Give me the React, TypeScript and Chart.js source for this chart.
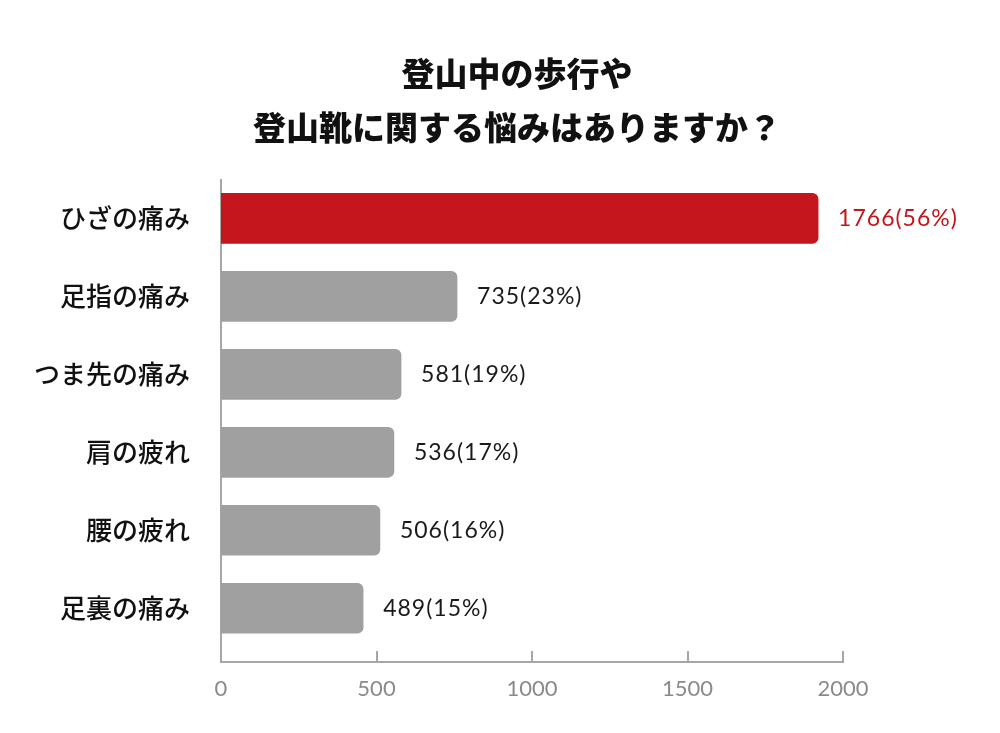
import React, { useEffect, useRef } from "react";
import { Chart, registerables } from "chart.js";

Chart.register(...registerables);

const titleLines = ["登山中の歩行や", "登山靴に関する悩みはありますか？"];
const categories = ["ひざの痛み", "足指の痛み", "つま先の痛み", "肩の疲れ", "腰の疲れ", "足裏の痛み"];
const barLengths = [1920, 759, 579, 556, 511, 457];
const counts = [1766, 735, 581, 536, 506, 489];
const shares = [56, 23, 19, 17, 16, 15];
const xTicks = [0, 500, 1000, 1500, 2000];

const RED = "#C4161C";
const GRAY = "#A0A0A0";
const AXIS = "#A6A6A6";

const barLabelPlugin = {
  id: "barLabels",
  afterDatasetsDraw(chart: any) {
    const { ctx } = chart;
    const meta = chart.getDatasetMeta(0);
    ctx.save();
    ctx.font = "400 23px Lato, 'Noto Sans', sans-serif";
    (ctx as any).letterSpacing = "1px";
    ctx.textBaseline = "middle";
    ctx.textAlign = "left";
    meta.data.forEach((el: any, i: number) => {
      ctx.fillStyle = i === 0 ? RED : "#1a1a1a";
      ctx.fillText(`${counts[i]}(${shares[i]}%)`, el.x + 20, el.y);
    });
    ctx.restore();
  },
};

const tickMarkPlugin = {
  id: "tickMarks",
  afterDraw(chart: any) {
    const { ctx, chartArea } = chart;
    const xs = chart.scales.x;
    ctx.save();
    ctx.strokeStyle = AXIS;
    ctx.lineWidth = 2;
    xTicks.forEach((v) => {
      const px = Math.round(xs.getPixelForValue(v));
      ctx.beginPath();
      ctx.moveTo(px, chartArea.bottom - 11);
      ctx.lineTo(px, chartArea.bottom);
      ctx.stroke();
    });
    ctx.restore();
  },
};

export default function App() {
  const ref = useRef<HTMLCanvasElement>(null);
  useEffect(() => {
    if (!ref.current) return;
    const chart = new Chart(ref.current, {
      type: "bar",
      data: {
        datasets: [
          {
            data: categories.map((_, i) => ({ x: barLengths[i], y: i })) as any,
            backgroundColor: categories.map((_, i) => (i === 0 ? RED : GRAY)),
            borderRadius: 6,
            borderSkipped: "start",
            barThickness: 50,
          },
        ],
      },
      options: {
        indexAxis: "y",
        animation: false,
        responsive: false,
        maintainAspectRatio: false,
        layout: { padding: { left: 34, right: 0, top: 0, bottom: 0 } },
        plugins: {
          legend: { display: false },
          tooltip: { enabled: false },
          title: {
            display: true,
            text: titleLines,
            color: "#111",
            font: { family: "'Noto Sans CJK JP', sans-serif", size: 33, weight: 900, lineHeight: 1.64 },
            padding: { top: 46, bottom: 26 },
          },
        },
        scales: {
          x: {
            type: "linear",
            min: 0,
            max: 2000,
            afterBuildTicks: (scale: any) => {
              scale.ticks = xTicks.map((v) => ({ value: v }));
            },
            afterFit: (scale: any) => {
              scale.height = 71;
            },
            grid: { display: false, drawTicks: false },
            border: { display: true, color: AXIS, width: 2 },
            ticks: {
              color: "#8a8a8a",
              padding: 14,
              font: { family: "Lato, 'Noto Sans', sans-serif", size: 22 },
              maxRotation: 0,
              callback: (v: any) => String(v),
            },
          },
          y: {
            type: "linear",
            reverse: true,
            offset: false,
            min: -0.49,
            max: 5.69,
            afterBuildTicks: (scale: any) => {
              scale.ticks = categories.map((_, i) => ({ value: i }));
            },
            afterFit: (scale: any) => {
              scale.width = 187;
            },
            grid: { display: false, drawTicks: false, offset: false },
            border: { display: true, color: AXIS, width: 2 },
            ticks: {
              color: "#111",
              padding: 31,
              font: { family: "'Noto Sans CJK JP', sans-serif", size: 26, weight: 500 },
              callback: (v: any) => categories[Number(v)] ?? "",
            },
          },
          spacer: {
            type: "linear",
            position: "right",
            display: true,
            afterFit: (scale: any) => {
              scale.width = 157;
            },
            grid: { display: false, drawTicks: false },
            border: { display: false },
            ticks: { display: false },
          },
        },
      },
      plugins: [barLabelPlugin, tickMarkPlugin],
    });
    return () => chart.destroy();
  }, []);

  return (
    <div style={{ position: "fixed", left: 0, top: 0, width: 1000, height: 733, background: "#fff" }}>
      <canvas ref={ref} width={1000} height={733} style={{ width: 1000, height: 733, display: "block" }} />
    </div>
  );
}
